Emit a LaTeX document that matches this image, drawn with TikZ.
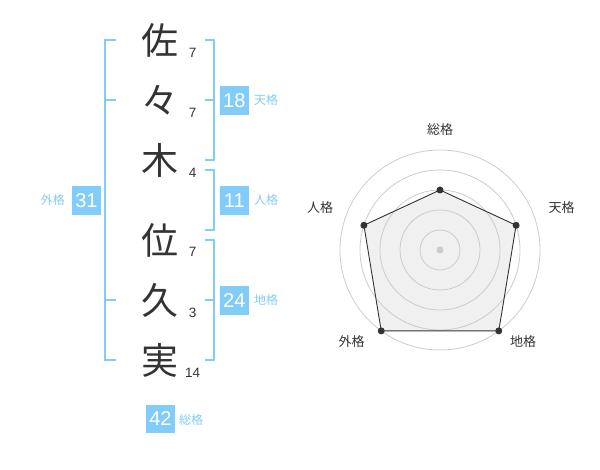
\documentclass[tikz,border=0pt]{standalone}
\usepackage{fontspec}
\setmainfont{Liberation Sans}
\newfontfamily\jp{Noto Sans CJK JP}
\definecolor{sky}{RGB}{130,204,250}
\definecolor{ink}{RGB}{51,51,51}
\definecolor{gridc}{RGB}{204,204,204}
\definecolor{polyfill}{RGB}{240,240,240}
\begin{document}
\begin{tikzpicture}[x=1pt,y=-1pt,
 kanji/.style={font=\jp\fontsize{37}{37}\selectfont, text=ink, inner sep=0},
 strk/.style={font=\fontsize{13.5}{13.5}\selectfont, text=ink, inner sep=0},
 valbox/.style={fill=sky, text=white, minimum width=28.5pt, minimum height=28.5pt, inner sep=0, font=\fontsize{20}{20}\selectfont},
 kaku/.style={text=sky, font=\jp\fontsize{12}{12}\selectfont, inner sep=0},
 brk/.style={draw=sky, line width=2pt, line join=miter},
 rlabel/.style={text=ink, font=\jp\fontsize{13}{13}\selectfont, inner sep=0},
 vdot/.style={circle, fill=ink, inner sep=0, minimum size=7pt},
 gridline/.style={draw=gridc, line width=0.8pt}]
\useasboundingbox (0,0) rectangle (600,470);

% characters
\node[kanji] (c1) at (160,40) {佐};
\node[kanji] (c2) at (160,100) {々};
\node[kanji] (c3) at (160,160) {木};
\node[kanji] (c4) at (160,240) {位};
\node[kanji] (c5) at (160,300) {久};
\node[kanji] (c6) at (160,360) {実};
% strokes
\node[strk] (s1) at (192.7,52.7) {7};
\node[strk] (s2) at (192.7,112.7) {7};
\node[strk] (s3) at (192.7,173.3) {4};
\node[strk] (s4) at (192.7,252.3) {7};
\node[strk] (s5) at (192.7,313.3) {3};
\node[strk] (s6) at (192.7,373.3) {14};

% brackets
\draw[brk] (116,40) -- (105,40) -- (105,360) -- (116,360);
\draw[brk] (105,100) -- (116,100);
\draw[brk] (105,300) -- (116,300);
\draw[brk] (205,40) -- (214,40) -- (214,160) -- (205,160);
\draw[brk] (205,100) -- (214,100);
\draw[brk] (205,170) -- (214,170) -- (214,230) -- (205,230);
\draw[brk] (205,240) -- (214,240) -- (214,360) -- (205,360);
\draw[brk] (205,300) -- (214,300);

% value boxes
\node[valbox] (ten) at (234.3,100.3) {18};
\node[kaku, anchor=west] (tenl) at (254,100.3) {天格};
\node[valbox] (jin) at (234.3,200.3) {11};
\node[kaku, anchor=west] (jinl) at (254,200.3) {人格};
\node[valbox] (chi) at (234.3,300.3) {24};
\node[kaku, anchor=west] (chil) at (254,300.3) {地格};
\node[valbox] (gai) at (86.5,200.3) {31};
\node[kaku, anchor=east] (gail) at (65,200.3) {外格};
\node[valbox] (sou) at (160.5,419) {42};
\node[kaku, anchor=west] (soul) at (179,419.5) {総格};

% radar
\begin{scope}[shift={(440,250)}]
 \coordinate (o) at (0,0);
 \fill[polyfill] (90:60pt) -- (18:80pt) -- (-54:100pt) -- (-126:100pt) -- (162:80pt) -- cycle;
 \foreach \r in {20,40,60,80,100} \draw[gridline] (o) circle[radius=\r pt];
 \fill[gridc] (o) circle[radius=3.5pt];
 \coordinate (p1) at (90:60pt);
 \coordinate (p2) at (18:80pt);
 \coordinate (p3) at (-54:100pt);
 \coordinate (p4) at (-126:100pt);
 \coordinate (p5) at (162:80pt);
 \draw[ink, line width=0.9pt] (p1) -- (p2) -- (p3) -- (p4) -- (p5) -- cycle;
 \foreach \p in {p1,p2,p3,p4,p5} \node[vdot] at (\p) {};
\end{scope}
\node[rlabel] (rs) at (440,130) {総格};
\node[rlabel] (rt) at (561.7,208) {天格};
\node[rlabel] (rc) at (523,341.7) {地格};
\node[rlabel] (rg) at (351.7,341.7) {外格};
\node[rlabel] (rj) at (320,208) {人格};
\end{tikzpicture}
\end{document}
